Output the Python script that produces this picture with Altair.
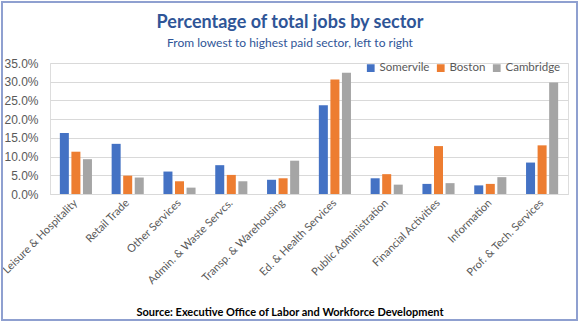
import altair as alt
import pandas as pd

sectors = ["Leisure & Hospitality", "Retail Trade", "Other Services", "Admin. & Waste Servcs.",
           "Transp. & Warehousing", "Ed. & Health Services", "Public Administration",
           "Financial Activities", "Information", "Prof. & Tech. Services"]
cities = ["Somervile", "Boston", "Cambridge"]
somerville = [16.3, 13.4, 6.0, 7.7, 3.8, 23.7, 4.2, 2.7, 2.3, 8.4]
boston = [11.3, 4.9, 3.4, 5.1, 4.2, 30.6, 5.3, 12.8, 2.7, 13.0]
cambridge = [9.3, 4.4, 1.7, 3.4, 8.9, 32.4, 2.5, 2.9, 4.5, 29.8]
colors = ["#4472C4", "#ED7D31", "#A5A5A5"]

title_text = "Percentage of total jobs by sector"
subtitle_text = "From lowest to highest paid sector, left to right"
source_text = "Source:  Executive Office of Labor and Workforce Development"

rows = []
for i, s in enumerate(sectors):
    for c, vals in zip(cities, [somerville, boston, cambridge]):
        rows.append({"sector": s, "city": c, "value": vals[i] / 100})
df = pd.DataFrame(rows)

W, H = 518, 131

bars = alt.Chart(df).mark_bar().encode(
    x=alt.X("sector:N", sort=sectors,
            scale=alt.Scale(paddingInner=0.38, paddingOuter=0.19),
            axis=alt.Axis(title=None, labelAngle=-45, labelAlign="right", labelBaseline="middle",
                          labelFont="Lato", labelFontSize=11, labelFontWeight="normal",
                          labelColor="#595959", ticks=False, domain=True, domainColor="#D9D9D9",
                          labelPadding=7, labelLimit=200)),
    xOffset=alt.XOffset("city:N", sort=cities, scale=alt.Scale(paddingInner=0.22)),
    y=alt.Y("value:Q", scale=alt.Scale(domain=[0, 0.35]),
            axis=alt.Axis(title=None, format=".1%", values=[0, 0.05, 0.1, 0.15, 0.2, 0.25, 0.3, 0.35],
                          labelFont="Liberation Sans", labelFontSize=12, labelColor="#595959",
                          ticks=False, domain=False, gridColor="#D9D9D9", labelPadding=12)),
    color=alt.Color("city:N", sort=cities, scale=alt.Scale(domain=cities, range=colors),
                    legend=alt.Legend(title=None, orient="none", direction="horizontal",
                                      legendX=315, legendY=-1, symbolType="square", symbolSize=60,
                                      symbolStrokeWidth=0, labelFont="Lato", labelFontSize=11.5,
                                      labelColor="#595959", columnPadding=5, labelOffset=3)),
)

def text_layer(txt, x, y, size, weight, color):
    return alt.Chart(pd.DataFrame({"t": [txt]})).mark_text(
        font="Lato", fontSize=size, fontWeight=weight, color=color, align="center", baseline="middle"
    ).encode(text="t:N", x=alt.value(x), y=alt.value(y))

title = text_layer(title_text, 240, -40, 18, "bold", "#2F5597")
subtitle = text_layer(subtitle_text, 240, -20, 12, "normal", "#2F5597")
source = text_layer(source_text, 240, 250, 11, "bold", "#000000")

border = alt.Chart(pd.DataFrame({"a": [0]})).mark_rect(
    fill=None, stroke="#8FA0D0", strokeWidth=2
).encode(x=alt.value(-48), x2=alt.value(527), y=alt.value(-61), y2=alt.value(257))

chart = alt.layer(bars, title, subtitle, source, border).properties(
    width=W, height=H,
    autosize=alt.AutoSizeParams(type="none"),
    padding={"left": 50, "top": 63, "right": 12, "bottom": 129},
).configure_view(stroke=None).configure(background="white")

chart.save("out.html", embed_options={"renderer": "svg", "actions": False})
